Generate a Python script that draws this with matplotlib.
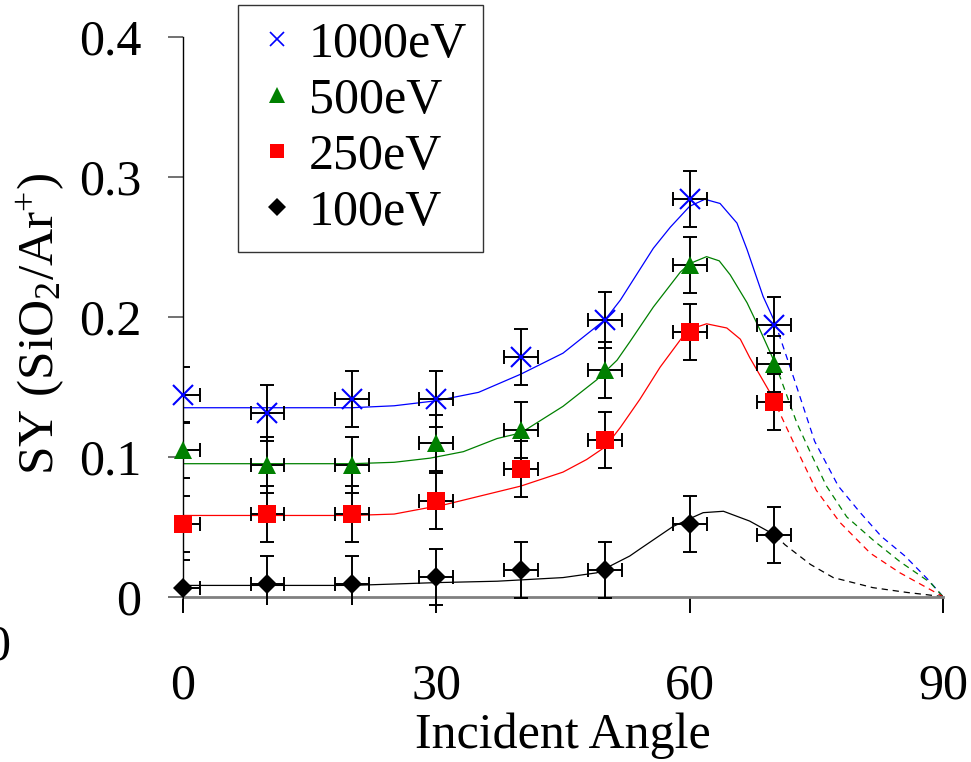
"""
Sputter yield of SiO2 under Ar+ bombardment vs. incident angle,
for four ion energies, with fitted curves (dashed beyond 70 deg).
"""

import matplotlib

matplotlib.use("Agg")

import matplotlib.pyplot as plt
from matplotlib.lines import Line2D


ANGLES = [0, 10, 20, 30, 40, 50, 60, 70]
X_ERR = 2.0
Y_ERR = 0.02

ENERGIES = ["1000eV", "500eV", "250eV", "100eV"]

SY_1000 = [0.144, 0.131, 0.141, 0.141, 0.171, 0.198, 0.284, 0.194]
SY_500 = [0.105, 0.094, 0.094, 0.110, 0.119, 0.162, 0.237, 0.166]
SY_250 = [0.052, 0.059, 0.059, 0.068, 0.091, 0.112, 0.189, 0.139]
SY_100 = [0.006, 0.009, 0.009, 0.014, 0.019, 0.019, 0.052, 0.044]

# fitted curves (solid part / dashed extrapolation)
FIT_1000_X = [0, 20, 25, 30, 35, 40, 45, 50, 51.8, 53.8, 55.7, 57.7, 60,
              61.8, 63.6, 65.6, 66.8, 68.7, 70.1]
FIT_1000_Y = [0.135, 0.135, 0.1364, 0.140, 0.146, 0.159, 0.174, 0.198, 0.212,
              0.231, 0.249, 0.264, 0.279, 0.284, 0.281, 0.267, 0.248, 0.2145,
              0.196]
EXT_1000_X = [70.1, 72.4, 74.8, 77.6, 80.2, 82.7, 85.5, 88.1, 90]
EXT_1000_Y = [0.196, 0.155, 0.111, 0.079, 0.060, 0.043, 0.029, 0.013, 0.0]

FIT_500_X = [0, 20, 25, 29.3, 33.2, 37.2, 40, 45, 49, 51.4, 52.9, 55.7, 58.9,
             60, 62, 63.5, 64.8, 66.8, 68.3, 70.1]
FIT_500_Y = [0.095, 0.095, 0.096, 0.099, 0.1036, 0.113, 0.117, 0.136, 0.155,
             0.169, 0.182, 0.207, 0.232, 0.238, 0.243, 0.240, 0.230, 0.210,
             0.191, 0.167]
EXT_500_X = [70.1, 72.7, 74.3, 76.2, 78.6, 81.8, 84.9, 88.5, 90]
EXT_500_Y = [0.167, 0.124, 0.103, 0.079, 0.057, 0.040, 0.025, 0.010, 0.0]

FIT_250_X = [0, 20, 25, 31.2, 40, 45, 47.8, 50, 51.8, 54.1, 56.5, 59.2, 60.5,
             62, 64.4, 66, 67.1, 69.5, 70.3]
FIT_250_Y = [0.058, 0.058, 0.059, 0.066, 0.079, 0.089, 0.098, 0.107, 0.121,
             0.141, 0.164, 0.186, 0.192, 0.195, 0.192, 0.184, 0.171, 0.146,
             0.136]
EXT_250_X = [70.3, 72.7, 75.0, 77.8, 81.4, 84.9, 88.5, 90]
EXT_250_Y = [0.136, 0.105, 0.076, 0.053, 0.031, 0.017, 0.005, 0.0]

FIT_100_X = [0, 20, 30, 37.2, 45, 49, 52.9, 54.1, 58, 60, 61.6, 64, 67.1,
             69.5, 70.1]
FIT_100_Y = [0.008, 0.008, 0.010, 0.011, 0.0136, 0.017, 0.029, 0.034, 0.050,
             0.0557, 0.060, 0.061, 0.054, 0.046, 0.044]
EXT_100_X = [70.1, 71.3, 74.3, 77, 81.7, 85.7, 90]
EXT_100_Y = [0.044, 0.037, 0.023, 0.0136, 0.0064, 0.003, 0.0]

X_TICKS = [0, 30, 60, 90]
Y_TICKS = [0, 0.1, 0.2, 0.3, 0.4]
Y_TICK_LABELS = ["0", "0.1", "0.2", "0.3", "0.4"]

SERIES = [
    ("1000eV", SY_1000, FIT_1000_X, FIT_1000_Y, EXT_1000_X, EXT_1000_Y),
    ("500eV", SY_500, FIT_500_X, FIT_500_Y, EXT_500_X, EXT_500_Y),
    ("250eV", SY_250, FIT_250_X, FIT_250_Y, EXT_250_X, EXT_250_Y),
    ("100eV", SY_100, FIT_100_X, FIT_100_Y, EXT_100_X, EXT_100_Y),
]

COLORS = {"1000eV": "#0000ff", "500eV": "#008000", "250eV": "#ff0000",
          "100eV": "#000000"}
MARKERS = {"1000eV": "x", "500eV": "^", "250eV": "s", "100eV": "D"}
MSIZE = {"1000eV": 14, "500eV": 13, "250eV": 13, "100eV": 10}
LEG_MSIZE = {"1000eV": 10, "500eV": 11, "250eV": 10, "100eV": 9}

FONT = 36

plt.rcParams["font.family"] = ["Liberation Serif", "DejaVu Serif"]
plt.rcParams["mathtext.fontset"] = "custom"
plt.rcParams["mathtext.rm"] = "Liberation Serif"
plt.rcParams["mathtext.it"] = "Liberation Serif:italic"
plt.rcParams["lines.scale_dashes"] = False

fig = plt.figure(figsize=(9.71, 7.62), dpi=100)
ax = fig.add_axes([183 / 971, 1 - 605 / 762, 760 / 971, 568 / 762])

for name, sy, fx, fy, ex, ey in SERIES:
    color = COLORS[name]
    ax.plot(fx, fy, color=color, lw=0.9, zorder=2)
    ax.plot(ex, ey, color=color, lw=0.9, dashes=(4.5, 3.5), zorder=2)
    ax.errorbar(ANGLES, sy, xerr=X_ERR, yerr=Y_ERR, fmt="none",
                ecolor="black", elinewidth=1.4, capsize=4.8, capthick=1.4,
                zorder=3)
    mew = 1.5 if MARKERS[name] == "x" else 0
    ax.plot(ANGLES, sy, ls="none", marker=MARKERS[name], ms=MSIZE[name],
            color=color, mec=color, mew=mew, zorder=4, clip_on=False)

ax.set_xlim(0, 90)
ax.set_ylim(-0.006, 0.4)

for side in ("top", "right"):
    ax.spines[side].set_visible(False)
ax.spines["left"].set_bounds(0, 0.4)
ax.spines["left"].set_linewidth(1.0)
ax.spines["bottom"].set_position(("data", 0))
ax.spines["bottom"].set_color("0.5")
ax.spines["bottom"].set_linewidth(2.0)

ax.set_xticks(X_TICKS)
ax.set_xticklabels([str(t) for t in X_TICKS])
ax.set_yticks(Y_TICKS)
ax.set_yticklabels(Y_TICK_LABELS)
ax.tick_params(axis="x", direction="out", length=11.5, width=1.4,
               color="black", pad=36, labelsize=FONT)
ax.tick_params(axis="y", direction="out", length=11, width=1.2,
               color="0.35", pad=19, labelsize=FONT)

ax.set_xlabel("Incident Angle", fontsize=FONT)
ax.xaxis.set_label_coords(0.5, -0.19)
ax.set_ylabel(r"SY (SiO$_2$/Ar$^{+}$)", fontsize=37)
ax.yaxis.set_label_coords(-0.152, 0.495)

handles = [
    Line2D([], [], ls="none", marker=MARKERS[n], color=COLORS[n],
           mec=COLORS[n], ms=LEG_MSIZE[n], mew=1.2 if MARKERS[n] == "x" else 0)
    for n in ENERGIES
]
leg = ax.legend(handles, ENERGIES, loc="upper left",
                bbox_to_anchor=(238 / 971, 1 - 5 / 762),
                bbox_transform=fig.transFigure, fontsize=FONT,
                frameon=True, fancybox=False, borderaxespad=0,
                borderpad=0.32, handlelength=0.9, handletextpad=0.2,
                labelspacing=0.19)
leg.get_frame().set_edgecolor("black")
leg.get_frame().set_linewidth(1.0)

# stray tick label cut off at the left edge of the original figure
fig.text(10 / 971, 1 - 647 / 762, "0", ha="right", va="center",
         fontsize=FONT)

fig.savefig("out.png", dpi=100)
plt.close(fig)
